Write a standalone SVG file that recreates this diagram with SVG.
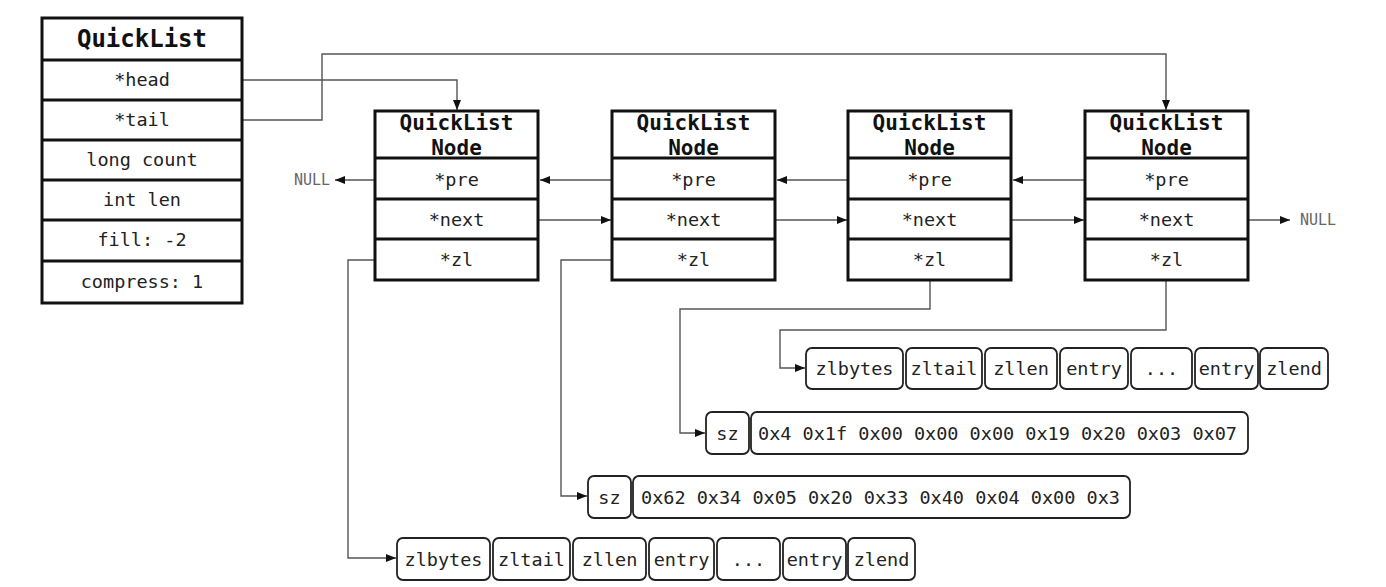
<svg xmlns="http://www.w3.org/2000/svg" width="1386" height="587" viewBox="0 0 1386 587">
<defs>
<marker id="arr" markerUnits="userSpaceOnUse" markerWidth="10" markerHeight="8" refX="10" refY="4" orient="auto"><path d="M0,0 L10,4 L0,8 z" fill="#111"/></marker>
<style>
.box{fill:#fff;stroke:#111;stroke-width:3}
.div{stroke:#111;stroke-width:3}
.zb{fill:#fff;stroke:#222;stroke-width:1.8}
.t{font-family:"DejaVu Sans Mono","Liberation Mono",monospace;font-size:18.5px;fill:#222;text-anchor:middle}
.ts{font-family:"DejaVu Sans Mono","Liberation Mono",monospace;font-size:18.5px;fill:#222}
.h1{font-family:"DejaVu Sans Mono","Liberation Mono",monospace;font-size:24px;font-weight:bold;fill:#111;text-anchor:middle}
.h2{font-family:"DejaVu Sans Mono","Liberation Mono",monospace;font-size:21px;font-weight:bold;fill:#111;text-anchor:middle}
.null{font-family:"DejaVu Sans Mono","Liberation Mono",monospace;font-size:15px;fill:#666}
.c{fill:none;stroke:#555;stroke-width:1.4;marker-end:url(#arr)}
</style>
</defs>
<rect width="1386" height="587" fill="#fff"/>

<g id="connectors">
<path class="c" d="M242,80 H457 V110"/>
<path class="c" d="M242,120 H322 V54 H1166 V110"/>
<path class="c" d="M375,180 H335"/>
<path class="c" d="M612,180 H540"/>
<path class="c" d="M848,180 H777"/>
<path class="c" d="M1085,180 H1013"/>
<path class="c" d="M538,220 H611"/>
<path class="c" d="M775,220 H847"/>
<path class="c" d="M1011,220 H1084"/>
<path class="c" d="M1248,220 H1290"/>
<path class="c" d="M375,260 H348 V558 H396"/>
<path class="c" d="M612,260 H561 V496 H587"/>
<path class="c" d="M930,281 V309 H680 V433 H705"/>
<path class="c" d="M1166,281 V330 H780 V368 H805"/>
<text class="null" x="294" y="185">NULL</text>
<text class="null" x="1300" y="225">NULL</text>
</g>

<g id="quicklist">
<rect class="box" x="42" y="18" width="200" height="285"/>
<line class="div" x1="42" y1="60" x2="242" y2="60"/>
<line class="div" x1="42" y1="100" x2="242" y2="100"/>
<line class="div" x1="42" y1="140" x2="242" y2="140"/>
<line class="div" x1="42" y1="180" x2="242" y2="180"/>
<line class="div" x1="42" y1="220" x2="242" y2="220"/>
<line class="div" x1="42" y1="261" x2="242" y2="261"/>
<text class="h1" x="142" y="47">QuickList</text>
<text class="t" x="142" y="86">*head</text>
<text class="t" x="142" y="126">*tail</text>
<text class="t" x="142" y="166">long count</text>
<text class="t" x="142" y="206">int len</text>
<text class="t" x="142" y="246">fill: -2</text>
<text class="t" x="142" y="288">compress: 1</text>
</g>

<g id="node1">
<rect class="box" x="375" y="111" width="163" height="169"/>
<line class="div" x1="375" y1="158" x2="538" y2="158"/>
<line class="div" x1="375" y1="199" x2="538" y2="199"/>
<line class="div" x1="375" y1="239" x2="538" y2="239"/>
<text class="h2" x="456.5" y="130">QuickList</text>
<text class="h2" x="456.5" y="155">Node</text>
<text class="t" x="456.5" y="186">*pre</text>
<text class="t" x="456.5" y="226">*next</text>
<text class="t" x="456.5" y="266">*zl</text>
</g>

<g id="node2">
<rect class="box" x="612" y="111" width="163" height="169"/>
<line class="div" x1="612" y1="158" x2="775" y2="158"/>
<line class="div" x1="612" y1="199" x2="775" y2="199"/>
<line class="div" x1="612" y1="239" x2="775" y2="239"/>
<text class="h2" x="693.5" y="130">QuickList</text>
<text class="h2" x="693.5" y="155">Node</text>
<text class="t" x="693.5" y="186">*pre</text>
<text class="t" x="693.5" y="226">*next</text>
<text class="t" x="693.5" y="266">*zl</text>
</g>

<g id="node3">
<rect class="box" x="848" y="111" width="163" height="169"/>
<line class="div" x1="848" y1="158" x2="1011" y2="158"/>
<line class="div" x1="848" y1="199" x2="1011" y2="199"/>
<line class="div" x1="848" y1="239" x2="1011" y2="239"/>
<text class="h2" x="929.5" y="130">QuickList</text>
<text class="h2" x="929.5" y="155">Node</text>
<text class="t" x="929.5" y="186">*pre</text>
<text class="t" x="929.5" y="226">*next</text>
<text class="t" x="929.5" y="266">*zl</text>
</g>

<g id="node4">
<rect class="box" x="1085" y="111" width="163" height="169"/>
<line class="div" x1="1085" y1="158" x2="1248" y2="158"/>
<line class="div" x1="1085" y1="199" x2="1248" y2="199"/>
<line class="div" x1="1085" y1="239" x2="1248" y2="239"/>
<text class="h2" x="1166.5" y="130">QuickList</text>
<text class="h2" x="1166.5" y="155">Node</text>
<text class="t" x="1166.5" y="186">*pre</text>
<text class="t" x="1166.5" y="226">*next</text>
<text class="t" x="1166.5" y="266">*zl</text>
</g>

<g id="ziplist-top">
<rect class="zb" x="806" y="348" width="97" height="41" rx="6"/>
<rect class="zb" x="906" y="348" width="76" height="41" rx="6"/>
<rect class="zb" x="985" y="348" width="72" height="41" rx="6"/>
<rect class="zb" x="1060" y="348" width="68" height="41" rx="6"/>
<rect class="zb" x="1131" y="348" width="61" height="41" rx="6"/>
<rect class="zb" x="1195" y="348" width="63" height="41" rx="6"/>
<rect class="zb" x="1260" y="348" width="68" height="41" rx="6"/>
<text class="t" x="854.5" y="375">zlbytes</text>
<text class="t" x="944" y="375">zltail</text>
<text class="t" x="1021" y="375">zllen</text>
<text class="t" x="1094" y="375">entry</text>
<text class="t" x="1161.5" y="375">...</text>
<text class="t" x="1226.5" y="375">entry</text>
<text class="t" x="1294" y="375">zlend</text>
</g>

<g id="lzf-1">
<rect class="zb" x="706" y="412" width="43" height="42" rx="6"/>
<rect class="zb" x="751" y="412" width="497" height="42" rx="6"/>
<text class="t" x="727.5" y="440">sz</text>
<text class="ts" x="758" y="440">0x4 0x1f 0x00 0x00 0x00 0x19 0x20 0x03 0x07</text>
</g>

<g id="lzf-2">
<rect class="zb" x="588" y="476" width="43" height="42" rx="6"/>
<rect class="zb" x="633" y="476" width="497" height="42" rx="6"/>
<text class="t" x="609.5" y="504">sz</text>
<text class="ts" x="641" y="504">0x62 0x34 0x05 0x20 0x33 0x40 0x04 0x00 0x3</text>
</g>

<g id="ziplist-bottom">
<rect class="zb" x="397" y="538" width="93" height="42" rx="6"/>
<rect class="zb" x="493" y="538" width="77" height="42" rx="6"/>
<rect class="zb" x="573" y="538" width="73" height="42" rx="6"/>
<rect class="zb" x="649" y="538" width="65" height="42" rx="6"/>
<rect class="zb" x="717" y="538" width="63" height="42" rx="6"/>
<rect class="zb" x="783" y="538" width="63" height="42" rx="6"/>
<rect class="zb" x="848" y="538" width="67" height="42" rx="6"/>
<text class="t" x="443.5" y="566">zlbytes</text>
<text class="t" x="531.5" y="566">zltail</text>
<text class="t" x="609.5" y="566">zllen</text>
<text class="t" x="681.5" y="566">entry</text>
<text class="t" x="748.5" y="566">...</text>
<text class="t" x="814.5" y="566">entry</text>
<text class="t" x="881.5" y="566">zlend</text>
</g>
</svg>
